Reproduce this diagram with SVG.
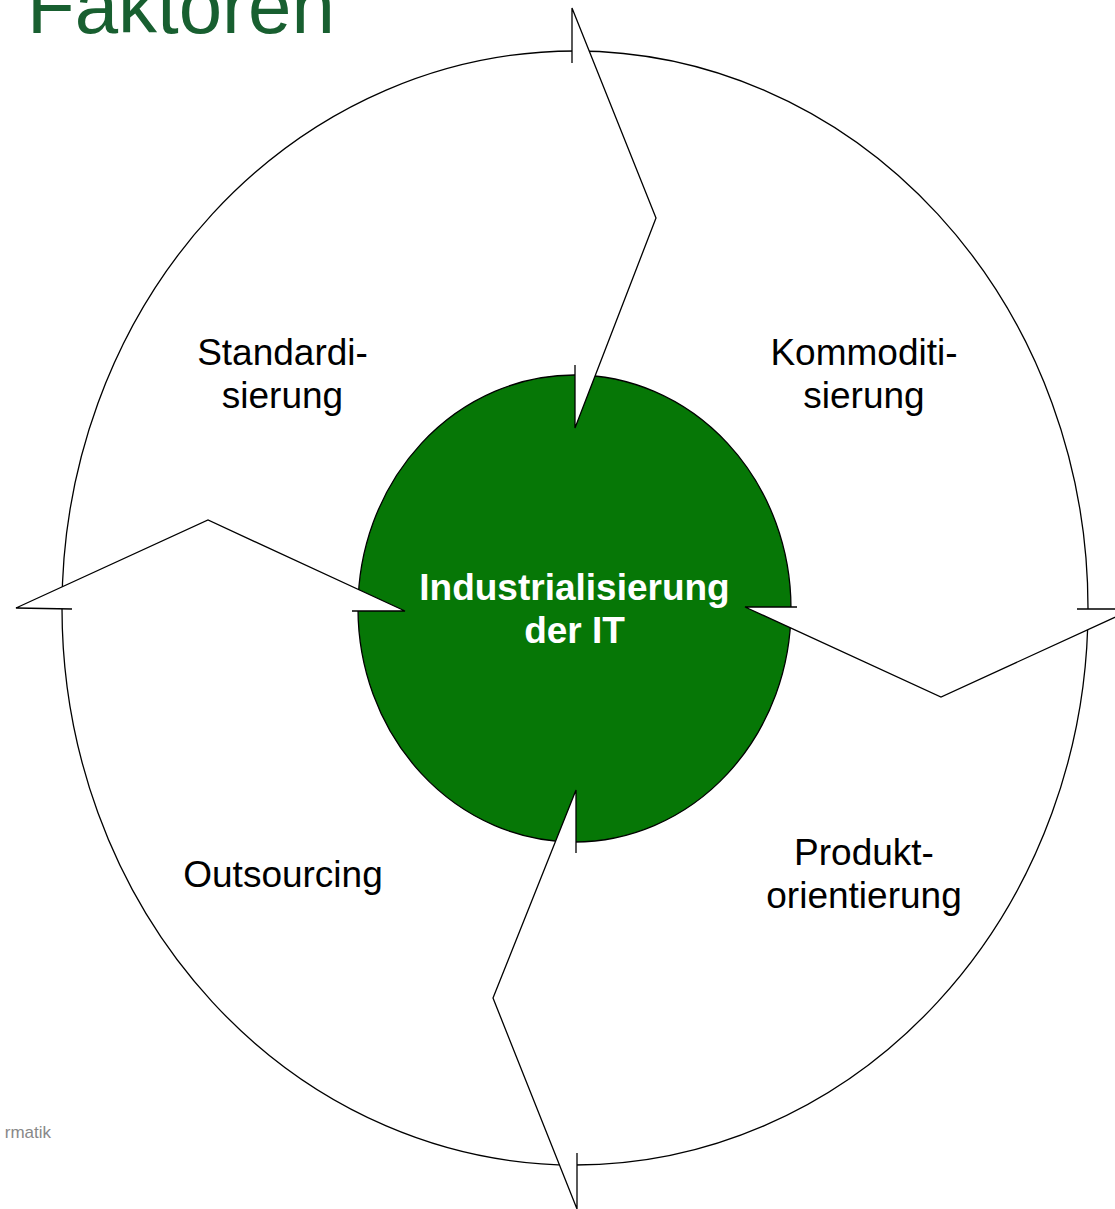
<svg xmlns="http://www.w3.org/2000/svg" width="1115" height="1209" viewBox="0 0 1115 1209">
<style>
.lbl{font-family:"Liberation Sans",Arial,sans-serif;font-size:37px;fill:#000;text-anchor:middle}
.ctr{font-family:"Liberation Sans",Arial,sans-serif;font-size:37px;font-weight:bold;fill:#fff;text-anchor:middle}
.afill{fill:#fff;stroke:none}
.aline{fill:none;stroke:#000;stroke-width:1.3;stroke-linejoin:miter}
</style>
<rect width="1115" height="1209" fill="#fff"/>
<text x="27" y="33" font-family="'Liberation Sans',Arial,sans-serif" font-size="78" fill="#185f30">Faktoren</text>
<text x="51" y="1138" font-family="'Liberation Sans',Arial,sans-serif" font-size="17" fill="#888" text-anchor="end">rmatik</text>
<g id="outer">
<ellipse cx="575" cy="608" rx="513" ry="557" fill="#fff" stroke="#000" stroke-width="1.3"/>
</g>
<g id="center">
<ellipse cx="574.5" cy="608.5" rx="216.5" ry="233.5" fill="#067706" stroke="#000" stroke-width="1.3"/>
</g>
<g id="connectors">
<polygon class="afill" points="572,8 656,218 575,428 575,365 572,63"/>
<path class="aline" d="M572,63 L572,8 L656,218 L575,428 L575,365"/>
<polygon class="afill" points="16,608 208,520 405,611 352,611 72,609"/>
<path class="aline" d="M72,609 L16,608 L208,520 L405,611 L352,611"/>
<polygon class="afill" points="745,607 941,697 1133,609 1077,609 797,607"/>
<path class="aline" d="M797,607 L745,607 L941,697 L1133,609 L1077,609"/>
<polygon class="afill" points="576,790 576,853 577,1153 577,1209 493,998"/>
<path class="aline" d="M576,853 L576,790 L493,998 L577,1209 L577,1153"/>
</g>
<g id="node-center-label">
<text class="ctr" x="574.5" y="600">Industrialisierung</text>
<text class="ctr" x="574.5" y="643">der IT</text>
</g>
<g id="node-standardisierung">
<text class="lbl" x="282.5" y="365">Standardi-</text>
<text class="lbl" x="282.5" y="408">sierung</text>
</g>
<g id="node-kommoditisierung">
<text class="lbl" x="864" y="365">Kommoditi-</text>
<text class="lbl" x="864" y="408">sierung</text>
</g>
<g id="node-produktorientierung">
<text class="lbl" x="864" y="865">Produkt-</text>
<text class="lbl" x="864" y="908">orientierung</text>
</g>
<g id="node-outsourcing">
<text class="lbl" x="283" y="887">Outsourcing</text>
</g>
</svg>
